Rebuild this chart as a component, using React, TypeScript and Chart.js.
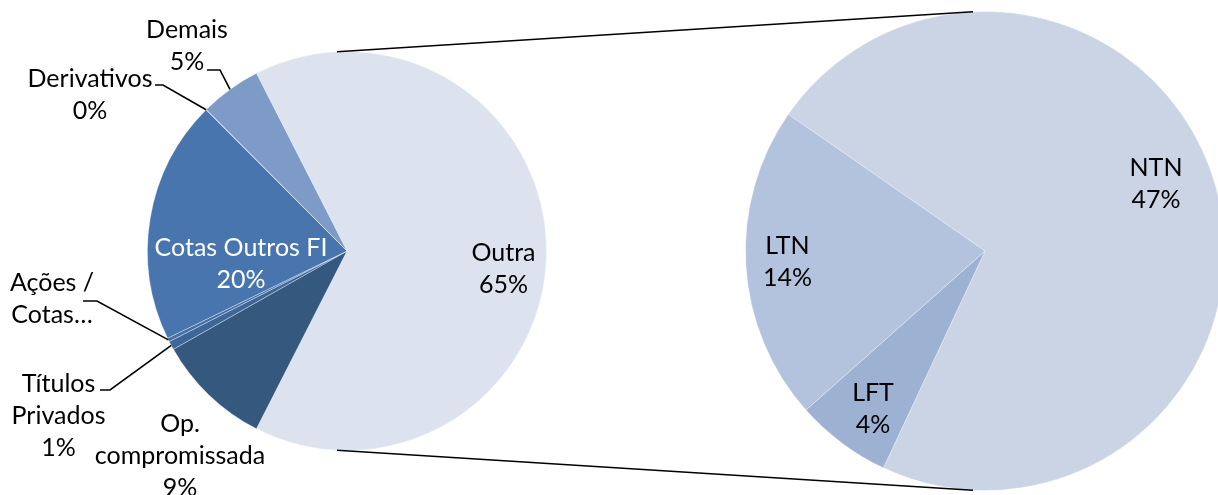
import React, { useEffect, useRef } from "react";
import { Chart, registerables } from "chart.js";

Chart.register(...registerables);

// ---- Data ----
const mainCategories = ["Outra", "Op. compromissada", "Títulos Privados", "Ações / Cotas…", "Cotas Outros FI", "Derivativos", "Demais"];
const mainValues = [65.0, 9.3, 0.7, 0.3, 19.7, 0.05, 4.95];
const mainLabelLines = [["Outra"], ["Op.", "compromissada"], ["Títulos", "Privados"], ["Ações /", "Cotas…"], ["Cotas Outros FI"], ["Derivativos"], ["Demais"]];
const mainShowPct = [true, true, true, false, true, true, true];

const subCategories = ["NTN", "LFT", "LTN"];
const subValues = [47.0, 4.2, 13.8];
const subLabelLines = [["NTN"], ["LFT"], ["LTN"]];

// ---- Styles / layout ----
const mainColors = ["#DCE2EE", "#35587F", "#3D6699", "#4470A8", "#4875AD", "#5C84BA", "#7E9BC8"];
const subColors = ["#CAD4E5", "#9DB1D3", "#B4C3DD"];
const mainLabelColors = ["#000", "#000", "#000", "#000", "#fff", "#000", "#000"];

const W = 1240;
const H = 495;
const LEFT = { cx: 347, cy: 251, r: 200, rotation: -27 };
const RIGHT = { cx: 985, cy: 251, r: 240, rotation: -55.2 };
const FONT = '25px Lato, "Open Sans", sans-serif';
const LINE_H = 32;

// label block centres, relative to pie centre
const mainLabelPos = [
  [156.5, 18], [-167, 205], [-288.5, 165], [-295, 48], [-106, 12.5], [-257, -156], [-160, -205],
];
const subLabelPos = [[171, -67.5], [-112, 157.5], [-197.5, 10.5]];
// leader lines: [slice index, start(dx,dy), elbow(dx,dy)] relative to pie centre
const leaders: [number, number[], number[]][] = [
  [6, [-140, -181], [-127, -181]],
  [5, [-192, -166], [-184, -166]],
  [3, [-264, 50], [-250, 50]],
  [2, [-247, 139], [-237, 139]],
];

function pct(v: number, arr: number[]) {
  const t = arr.reduce((a, b) => a + b, 0);
  return Math.round((v / t) * 100) + "%";
}

function drawBlock(ctx: CanvasRenderingContext2D, x: number, y: number, lines: string[], color: string) {
  ctx.save();
  ctx.font = FONT;
  ctx.fillStyle = color;
  ctx.textAlign = "center";
  ctx.textBaseline = "middle";
  const y0 = y - ((lines.length - 1) * LINE_H) / 2;
  lines.forEach((l, i) => ctx.fillText(l, x, y0 + i * LINE_H));
  ctx.restore();
}

export default function App() {
  const leftRef = useRef<HTMLCanvasElement>(null);
  const rightRef = useRef<HTMLCanvasElement>(null);

  useEffect(() => {
    const leftPlugin = {
      id: "leftLabels",
      afterDraw(chart: any) {
        const ctx = chart.ctx as CanvasRenderingContext2D;
        const arcs = chart.getDatasetMeta(0).data;
        const a0 = arcs[0];
        const cx = a0.x, cy = a0.y;
        ctx.save();
        ctx.strokeStyle = "#000";
        ctx.lineWidth = 1.6;
        leaders.forEach(([idx, s, e]) => {
          const arc = arcs[idx];
          const mid = (arc.startAngle + arc.endAngle) / 2;
          const px = arc.x + Math.cos(mid) * arc.outerRadius;
          const py = arc.y + Math.sin(mid) * arc.outerRadius;
          ctx.beginPath();
          ctx.moveTo(cx + s[0], cy + s[1]);
          ctx.lineTo(cx + e[0], cy + e[1]);
          ctx.lineTo(px, py);
          ctx.stroke();
        });
        ctx.restore();
        mainCategories.forEach((_, i) => {
          const lines = [...mainLabelLines[i]];
          if (mainShowPct[i]) lines.push(pct(mainValues[i], mainValues));
          drawBlock(ctx, cx + mainLabelPos[i][0], cy + mainLabelPos[i][1], lines, mainLabelColors[i]);
        });
      },
    };

    const left = new Chart(leftRef.current!, {
      type: "pie",
      data: {
        labels: mainCategories,
        datasets: [{ data: mainValues, backgroundColor: mainColors, borderColor: "rgba(255,255,255,0.35)", borderWidth: 1 }],
      },
      options: {
        responsive: false,
        animation: false,
        events: [],
        rotation: LEFT.rotation,
        layout: { padding: { left: LEFT.cx - LEFT.r, top: LEFT.cy - LEFT.r, right: W - LEFT.cx - LEFT.r, bottom: H - LEFT.cy - LEFT.r } },
        plugins: { legend: { display: false }, tooltip: { enabled: false } },
      },
      plugins: [leftPlugin],
    });

    const rightPlugin = {
      id: "rightLabels",
      afterDraw(chart: any) {
        const ctx = chart.ctx as CanvasRenderingContext2D;
        const arcs = chart.getDatasetMeta(0).data;
        const a0 = arcs[0];
        const cx = a0.x, cy = a0.y, r = a0.outerRadius;
        const la = left.getDatasetMeta(0).data[0] as any;
        const lx = la.x, ly = la.y, lr = la.outerRadius;
        const d = 0.05;
        ctx.save();
        ctx.strokeStyle = "#000";
        ctx.lineWidth = 1.6;
        [-Math.PI / 2 - d, Math.PI / 2 + d].forEach((ang) => {
          ctx.beginPath();
          ctx.moveTo(lx + Math.cos(ang) * lr, ly + Math.sin(ang) * lr);
          ctx.lineTo(cx + Math.cos(ang) * r, cy + Math.sin(ang) * r);
          ctx.stroke();
        });
        ctx.restore();
        const share = mainValues[0] / subValues.reduce((a, b) => a + b, 0);
        subCategories.forEach((_, i) => {
          const lines = [...subLabelLines[i], Math.round(subValues[i] * share) + "%"];
          drawBlock(ctx, cx + subLabelPos[i][0], cy + subLabelPos[i][1], lines, "#000");
        });
      },
    };

    const right = new Chart(rightRef.current!, {
      type: "pie",
      data: {
        labels: subCategories,
        datasets: [{ data: subValues, backgroundColor: subColors, borderColor: "rgba(255,255,255,0.3)", borderWidth: 1 }],
      },
      options: {
        responsive: false,
        animation: false,
        events: [],
        rotation: RIGHT.rotation,
        layout: { padding: { left: RIGHT.cx - RIGHT.r, top: RIGHT.cy - RIGHT.r, right: W - RIGHT.cx - RIGHT.r, bottom: H - RIGHT.cy - RIGHT.r } },
        plugins: { legend: { display: false }, tooltip: { enabled: false } },
      },
      plugins: [rightPlugin],
    });

    return () => {
      right.destroy();
      left.destroy();
    };
  }, []);

  return (
    <div style={{ position: "absolute", left: 0, top: 0, width: 1218, height: 495, overflow: "hidden", background: "#fff" }}>
      <canvas ref={leftRef} width={W} height={H} style={{ position: "absolute", left: 0, top: 0, width: W, height: H }} />
      <canvas ref={rightRef} width={W} height={H} style={{ position: "absolute", left: 0, top: 0, width: W, height: H }} />
    </div>
  );
}
